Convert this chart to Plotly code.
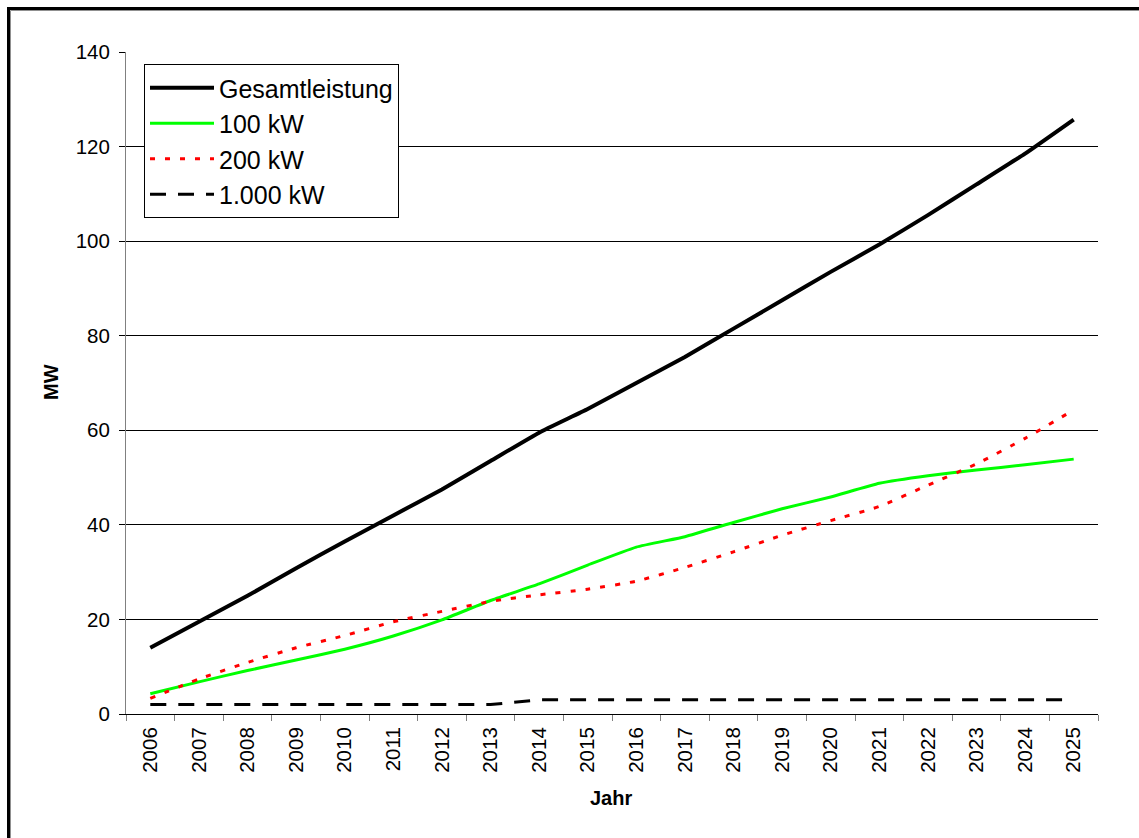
import plotly.graph_objects as go

# Jahre (Kategorien der x-Achse)
jahre = [str(j) for j in range(2006, 2026)]

# Installierte Leistung in MW
gesamtleistung = [14.0, 19.5, 25.0, 30.8, 36.5, 42.0, 47.5, 53.5, 59.5, 64.5,
                  70.0, 75.5, 81.5, 87.5, 93.5, 99.3, 105.5, 112.0, 118.5, 125.7]
kw100 = [4.3, 6.8, 9.2, 11.4, 13.7, 16.5, 19.9, 24.0, 27.5, 31.5,
         35.3, 37.5, 40.5, 43.4, 45.9, 48.8, 50.4, 51.6, 52.7, 53.9]
kw200 = [3.3, 7.4, 10.9, 14.0, 16.6, 19.5, 21.7, 23.8, 25.2, 26.4,
         28.1, 31.0, 34.3, 37.8, 40.9, 43.9, 48.4, 52.9, 58.3, 64.3]
kw1000 = [2, 2, 2, 2, 2, 2, 2, 2, 3, 3,
          3, 3, 3, 3, 3, 3, 3, 3, 3, 3]

y_ticks = [0, 20, 40, 60, 80, 100, 120, 140]

FONT = "Arial, Liberation Sans, sans-serif"

fig = go.Figure()
fig.add_trace(go.Scatter(x=jahre, y=gesamtleistung, name="Gesamtleistung", mode="lines",
                         line=dict(color="#000000", width=4, shape="spline", smoothing=0.4)))
fig.add_trace(go.Scatter(x=jahre, y=kw100, name="100 kW", mode="lines",
                         line=dict(color="#00ff00", width=3, shape="spline", smoothing=0.4)))
fig.add_trace(go.Scatter(x=jahre, y=kw200, name="200 kW", mode="lines",
                         line=dict(color="#ff0000", width=3, dash="5px,10px",
                                   shape="spline", smoothing=0.6)))
fig.add_trace(go.Scatter(x=jahre, y=kw1000, name="1.000 kW", mode="lines",
                         line=dict(color="#000000", width=3, dash="16px,12px")))

L, R, T, B = 126, 41, 52, 124
W, H = 1139, 838
pw, ph = W - L - R, H - T - B


def px_x(x):
    return (x - L) / pw


def px_y(y):
    return (H - B - y) / ph


fig.update_layout(
    width=W, height=H,
    margin=dict(l=L, r=R, t=T, b=B, pad=0),
    paper_bgcolor="white", plot_bgcolor="white",
    font=dict(family=FONT, color="black", size=20),
    showlegend=True,
    legend=dict(
        x=px_x(144), y=px_y(64), xanchor="left", yanchor="top",
        bgcolor="white", bordercolor="black", borderwidth=1,
        font=dict(family=FONT, size=25, color="black"),
        itemwidth=64, tracegroupgap=0,
    ),
    xaxis=dict(
        type="category", range=[-0.5, 19.5], tickson="boundaries",
        ticks="outside", ticklen=6, tickcolor="#808080", tickwidth=1,
        showline=True, linecolor="black", linewidth=1,
        showgrid=False, zeroline=False, tickangle=-90, ticklabelstandoff=4,
        tickfont=dict(family=FONT, size=20.5, color="black"),
    ),
    yaxis=dict(
        range=[0, 140], tickvals=y_ticks, ticks="outside", ticklen=6,
        tickcolor="black", showline=True, linecolor="#808080", linewidth=1,
        showgrid=True, gridcolor="black", gridwidth=1, zeroline=False,
        ticklabelstandoff=5,
        tickfont=dict(family=FONT, size=20.5, color="black"),
    ),
    annotations=[
        dict(text="MW", textangle=-90, x=px_x(51), y=px_y(382), xref="paper", yref="paper",
             xanchor="center", yanchor="middle", showarrow=False,
             font=dict(family=FONT, size=20, color="black", weight="bold")),
        dict(text="Jahr", x=px_x(611), y=px_y(798), xref="paper", yref="paper",
             xanchor="center", yanchor="middle", showarrow=False,
             font=dict(family=FONT, size=20, color="black", weight="bold")),
    ],
    shapes=[
        # Rahmen um das Diagramm (oben und links sichtbar)
        dict(type="rect", xref="paper", yref="paper",
             x0=px_x(8.5), x1=px_x(1160), y0=px_y(860), y1=px_y(8.5),
             line=dict(color="black", width=3), fillcolor="rgba(0,0,0,0)", layer="above"),
        dict(type="rect", xref="paper", yref="paper",
             x0=px_x(10.5), x1=px_x(1160), y0=px_y(860), y1=px_y(10.5),
             line=dict(color="#909090", width=1), fillcolor="rgba(0,0,0,0)", layer="above"),
    ],
)

fig.write_html("out.html")
